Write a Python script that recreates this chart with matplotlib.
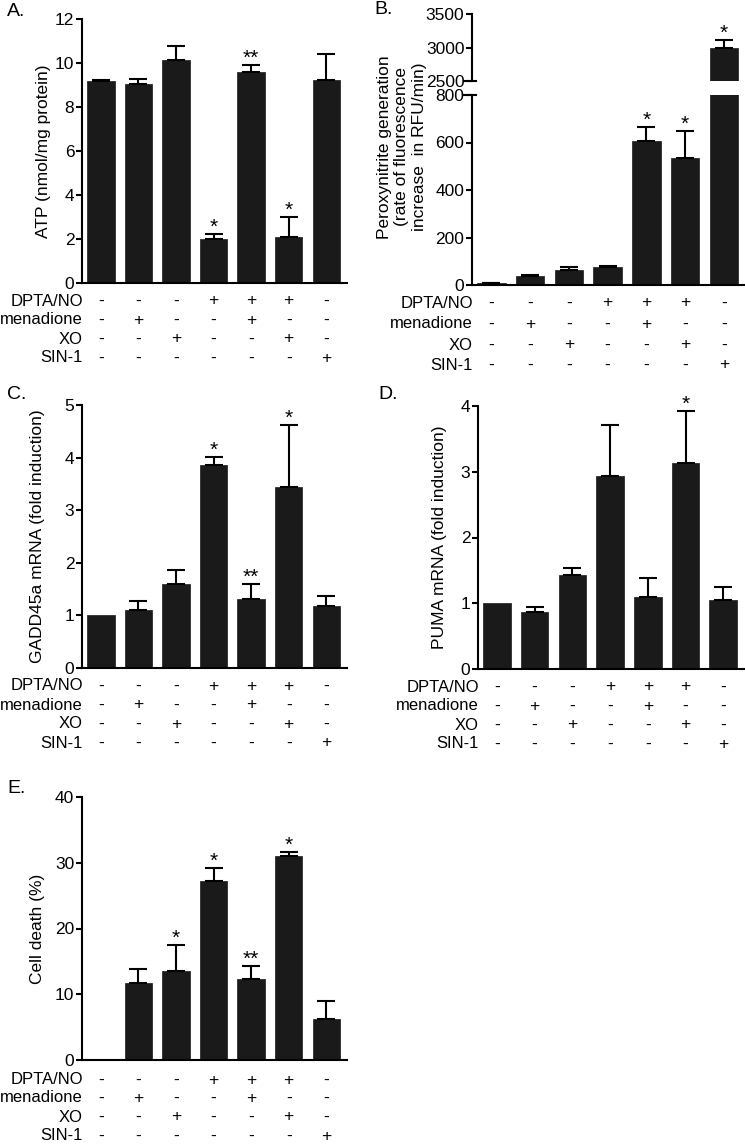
import matplotlib
matplotlib.use("Agg")
import matplotlib.pyplot as plt

plt.rcParams['font.family'] = ['Liberation Sans', 'DejaVu Sans']
plt.rcParams['font.size'] = 12.5

# Data
groups = ['DPTA/NO', 'menadione', 'XO', 'SIN-1']
signs = [
    ['-', '-', '-', '+', '+', '+', '-'],
    ['-', '+', '-', '-', '+', '-', '-'],
    ['-', '-', '+', '-', '-', '+', '-'],
    ['-', '-', '-', '-', '-', '-', '+'],
]

atp = [9.2, 9.05, 10.15, 2.0, 9.6, 2.1, 9.25]
atp_err = [0.05, 0.22, 0.63, 0.25, 0.32, 0.9, 1.15]
atp_sig = ['', '', '', '*', '**', '*', '']

perox = [8, 38, 62, 75, 608, 533, 3000]
perox_err = [2, 3, 13, 3, 58, 117, 110]
perox_sig = ['', '', '', '', '*', '*', '*']

gadd = [1.0, 1.1, 1.6, 3.85, 1.32, 3.45, 1.18]
gadd_err = [0.0, 0.17, 0.27, 0.17, 0.28, 1.17, 0.18]
gadd_sig = ['', '', '', '*', '**', '*', '']

puma = [1.0, 0.87, 1.43, 2.94, 1.10, 3.14, 1.05]
puma_err = [0.0, 0.08, 0.11, 0.77, 0.29, 0.78, 0.2]
puma_sig = ['', '', '', '', '', '*', '']

death = [0, 11.75, 13.5, 27.2, 12.3, 31.1, 6.2]
death_err = [0, 2.15, 4.0, 2.0, 2.0, 0.6, 2.8]
death_sig = ['', '', '*', '*', '**', '*', '']

W, H = 745, 1145
BAR = '#1a1a1a'
x = list(range(7))

fig = plt.figure(figsize=(W / 100, H / 100), dpi=100)


def make_axes(left, right, top, bottom):
    return fig.add_axes([left / W, 1 - bottom / H, (right - left) / W, (bottom - top) / H])


def style(ax):
    for s in ['top', 'right']:
        ax.spines[s].set_visible(False)
    for s in ['left', 'bottom']:
        ax.spines[s].set_linewidth(1.5)
    ax.tick_params(axis='y', length=4.5, width=1.5, pad=1)
    ax.set_xticks([])
    ax.set_xlim(-0.5, 6.55)


def draw_bars(ax, vals, errs, sig):
    xs = [i for i in x if vals[i] > 0]
    ax.bar(xs, [vals[i] for i in xs], width=0.73, color=BAR, edgecolor=BAR, linewidth=0.5)
    xe = [i for i in x if errs[i] > 0]
    ax.errorbar(xe, [vals[i] for i in xe], yerr=[[0] * len(xe), [errs[i] for i in xe]],
                fmt='none', ecolor='k', elinewidth=1.5, capsize=6.5, capthick=1.5)
    for i, s in enumerate(sig):
        if s:
            ax.annotate(s, (i, vals[i] + errs[i]), xytext=(0, -3),
                        textcoords='offset pixels', ha='center', va='bottom',
                        fontsize=15)


def draw_table(ax, offs):
    for r, g in enumerate(groups):
        ax.annotate(g, (0, 0), xycoords='axes fraction', xytext=(1, -offs[r]),
                    textcoords='offset pixels', ha='right', va='center', fontsize=12)
        for i, s in enumerate(signs[r]):
            ax.annotate(s, (i, 0), xycoords=('data', 'axes fraction'),
                        xytext=(0, -offs[r]), textcoords='offset pixels',
                        ha='center', va='center', fontsize=12.5)


offs = [18, 37, 56, 75]

# A
axA = make_axes(82, 347, 19, 283)
style(axA)
draw_bars(axA, atp, atp_err, atp_sig)
axA.set_ylim(0, 12)
axA.set_yticks(range(0, 13, 2))
axA.set_ylabel('ATP (nmol/mg protein)')
axA.yaxis.set_label_coords(-0.117, 0.5)
draw_table(axA, offs)

# B (broken axis)
axBt = make_axes(472, 744, 14, 81)
axBb = make_axes(472, 744, 95, 285)
style(axBt)
style(axBb)
axBt.spines['bottom'].set_visible(False)
draw_bars(axBt, perox, perox_err, perox_sig)
draw_bars(axBb, perox, perox_err, ['', '', '', '', '*', '*', ''])
axBt.set_ylim(2500, 3500)
axBt.set_yticks([2500, 3000, 3500])
axBb.set_ylim(0, 800)
axBb.set_yticks(range(0, 801, 200))
axBb.set_xlim(-0.5, 6.52)
axBt.set_xlim(-0.5, 6.52)
axBt.plot([-0.03, 0.015], [0, 0], transform=axBt.transAxes, color='k', lw=1.5, clip_on=False)
axBb.plot([-0.03, 0.015], [1, 1], transform=axBb.transAxes, color='k', lw=1.5, clip_on=False)
fig.text(402 / W, 1 - 147 / H,
         'Peroxynitrite generation\n(rate of fluorescence\nincrease  in RFU/min)',
         rotation=90, ha='center', va='center', multialignment='center', linespacing=1.2)
draw_table(axBb, [18, 39, 60, 80])

# C
axC = make_axes(82, 347, 405, 668)
style(axC)
draw_bars(axC, gadd, gadd_err, gadd_sig)
axC.set_ylim(0, 5)
axC.set_yticks(range(0, 6))
axC.set_ylabel('GADD45a mRNA (fold induction)')
axC.yaxis.set_label_coords(-0.14, 0.5)
draw_table(axC, offs)

# D
axD = make_axes(478, 744, 406, 669)
style(axD)
draw_bars(axD, puma, puma_err, puma_sig)
axD.set_ylim(0, 4)
axD.set_yticks(range(0, 5))
axD.set_ylabel('PUMA mRNA (fold induction)')
axD.yaxis.set_label_coords(-0.117, 0.5)
draw_table(axD, offs)

# E
axE = make_axes(82, 347, 797, 1060)
style(axE)
draw_bars(axE, death, death_err, death_sig)
axE.set_ylim(0, 40)
axE.set_yticks(range(0, 41, 10))
axE.set_ylabel('Cell death (%)')
axE.yaxis.set_label_coords(-0.14, 0.5)
draw_table(axE, [20, 38, 57, 76])

for lab, px, py in [('A.', 7, 3), ('B.', 374, 1), ('C.', 7, 386), ('D.', 378, 386), ('E.', 7, 780)]:
    fig.text(px / W, 1 - py / H, lab, fontsize=14, ha='left', va='top')

fig.savefig('out.png', dpi=100)
